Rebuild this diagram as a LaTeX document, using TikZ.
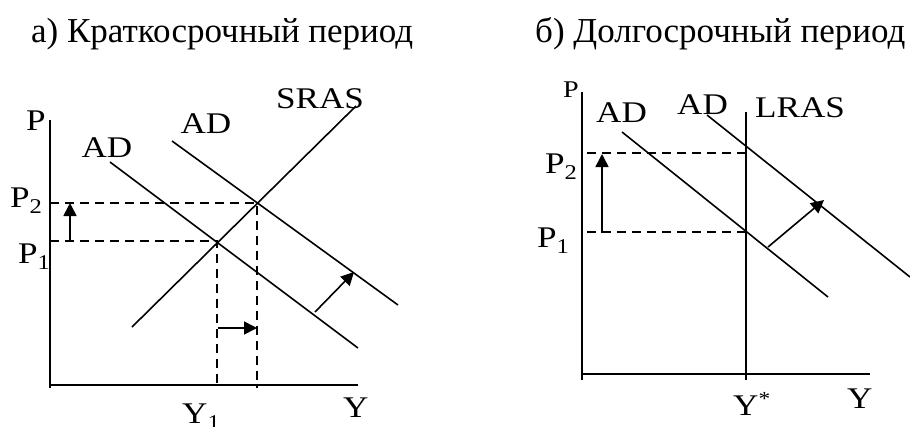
\documentclass[tikz,border=0pt]{standalone}
\usepackage{fontspec}
\setmainfont{Liberation Serif}
\usetikzlibrary{arrows.meta}
\newcommand\hs[1]{\scalebox{1.17}[1]{#1}}
\newcommand\subdig[1]{\raisebox{-6pt}{\fontsize{21}{21}\selectfont #1}}
\newcommand\supstar{\raisebox{10pt}{\fontsize{20}{20}\selectfont *}}
\begin{document}
\begin{tikzpicture}[x=1pt,y=-1pt,
  lbl/.style={inner sep=0pt,font=\fontsize{30}{32}\selectfont},
  ttl/.style={inner sep=0pt,font=\fontsize{35}{37}\selectfont,anchor=base west},
  axisln/.style={line width=2pt},
  curve/.style={line width=1.6pt},
  guide/.style={line width=1.5pt,dash pattern=on 9pt off 6pt},
  shiftarrow/.style={line width=1.6pt,-{Triangle[length=13pt,width=13pt]}}]
\useasboundingbox (0,0) rectangle (910,426);
% titles
\node[ttl] (ta) at (31,42) {а) Краткосрочный период};
\node[ttl] (tb) at (535,42) {б) Долгосрочный период};
% ---------- left panel ----------
\coordinate (LT) at (50,120);
\coordinate (LR) at (358,385);
\draw[axisln] (LT) -- (50,388);
\draw[axisln] (49,385) -- (LR);
\coordinate (E1) at (217,241);
\coordinate (E2) at (257,203);
\coordinate (ad1a) at (110,162); \coordinate (ad1b) at (358,348);
\coordinate (ad2a) at (172,141); \coordinate (ad2b) at (398,305);
\coordinate (sa) at (132,327); \coordinate (sb) at (356,106);
\draw[curve] (ad1a) -- (ad1b);
\draw[curve] (ad2a) -- (ad2b);
\draw[curve] (sa) -- (sb);
\coordinate (P1L) at (50,241); \coordinate (P2L) at (50,203);
\coordinate (Y1L) at (217,388); \coordinate (Y2L) at (257,388);
\draw[guide] (P1L) -- (E1) -- (Y1L);
\draw[guide] (P2L) -- (E2) -- (Y2L);
\coordinate (ua) at (70,241); \coordinate (ub) at (70,203);
\draw[shiftarrow] (ua) -- (ub);
\coordinate (ra) at (218,328); \coordinate (rb) at (257,328);
\draw[shiftarrow] (ra) -- (rb);
\coordinate (da) at (315,312); \coordinate (db) at (354,272);
\draw[shiftarrow] (da) -- (db);
\node[lbl,anchor=base] (lP) at (36,130) {\hs{P}};
\node[lbl,anchor=base] (lAD1) at (107,157) {\hs{AD}};
\node[lbl,anchor=base] (lAD2) at (206,133) {\hs{AD}};
\node[lbl,anchor=base] (lSRAS) at (320,108) {\hs{SRAS}};
\node[lbl,anchor=base west] (lP2) at (10,207) {\hs{P\subdig{2}}};
\node[lbl,anchor=base west] (lP1) at (18,263) {\hs{P\subdig{1}}};
\node[lbl,anchor=base west] (lY1) at (182,423) {\hs{Y\subdig{1}}};
\node[lbl,anchor=base west] (lY) at (343,417) {\hs{Y}};
% ---------- right panel ----------
\draw[axisln] (582,92) -- (582,380);
\draw[axisln] (581,374) -- (870,374);
\draw[line width=1.5pt] (746,112) -- (746,380);
\coordinate (bad1a) at (622,132); \coordinate (bad1b) at (828,297);
\coordinate (bad2a) at (707,115); \coordinate (bad2b) at (910,277);
\draw[curve] (bad1a) -- (bad1b);
\draw[curve] (bad2a) -- (bad2b);
\coordinate (bE1) at (746,232); \coordinate (bE2) at (746,153);
\draw[guide] (587,232) -- (bE1);
\draw[guide] (587,153) -- (bE2);
\coordinate (bua) at (602,233); \coordinate (bub) at (602,154);
\draw[shiftarrow] (bua) -- (bub);
\coordinate (bda) at (768,247); \coordinate (bdb) at (824,200);
\draw[shiftarrow] (bda) -- (bdb);
\node[lbl,anchor=base west,font=\fontsize{24}{26}\selectfont] (rP) at (563,97) {\hs{P}};
\node[lbl,anchor=base west] (rAD1) at (596,122) {\hs{AD}};
\node[lbl,anchor=base west] (rAD2) at (677,114) {\hs{AD}};
\node[lbl,anchor=base west] (rLRAS) at (755,117) {\hs{LRAS}};
\node[lbl,anchor=base west] (rP2) at (545,173) {\hs{P\subdig{2}}};
\node[lbl,anchor=base west] (rP1) at (537,247) {\hs{P\subdig{1}}};
\node[lbl,anchor=base west] (rYs) at (733,415) {\hs{Y\supstar}};
\node[lbl,anchor=base west] (rY) at (847,408) {\hs{Y}};
\end{tikzpicture}
\end{document}
